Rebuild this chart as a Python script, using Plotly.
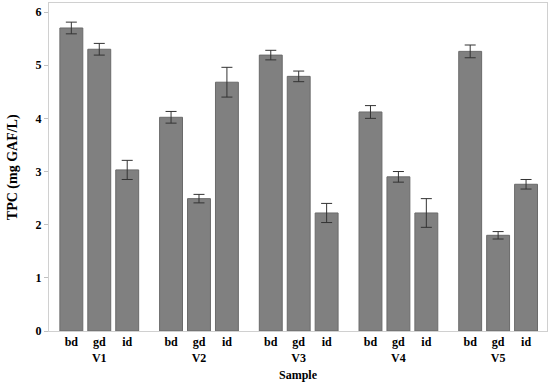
import plotly.graph_objects as go

groups = ["V1", "V2", "V3", "V4", "V5"]
subs = ["bd", "gd", "id"]
values = [5.70, 5.30, 3.03,
          4.02, 2.49, 4.68,
          5.19, 4.79, 2.22,
          4.12, 2.90, 2.22,
          5.26, 1.80, 2.76]
errors = [0.11, 0.11, 0.18,
          0.11, 0.08, 0.28,
          0.09, 0.10, 0.18,
          0.12, 0.10, 0.27,
          0.12, 0.07, 0.09]

gap = 0.57
xs, labels = [], []
for g, grp in enumerate(groups):
    for k, s in enumerate(subs):
        xs.append(g * (3 + gap) + k)
        labels.append(f"<b>{s}</b><br><b>{grp}</b>" if k == 1 else f"<b>{s}</b>")

font = "Liberation Serif"
fig = go.Figure(go.Bar(
    x=xs, y=values, width=0.82,
    marker=dict(color="#808080", line=dict(color="#6a6a6a", width=1)),
    error_y=dict(type="data", array=errors, color="#333333", thickness=1, width=5.5),
))
fig.update_layout(
    width=550, height=386,
    margin=dict(l=49, r=3, t=3, b=55),
    plot_bgcolor="white", paper_bgcolor="white",
    showlegend=False,
    font=dict(family=font, color="#000000"),
    annotations=[
        dict(text="<b>Sample</b>", xref="paper", yref="paper", x=0.5, y=-0.108,
             xanchor="center", yanchor="top", showarrow=False,
             font=dict(family=font, size=12)),
        dict(text="<b>TPC (mg GAF/L)</b>", xref="paper", yref="paper", x=-0.072, y=0.5,
             xanchor="center", yanchor="middle", showarrow=False, textangle=-90,
             font=dict(family=font, size=14)),
    ],
)
fig.update_xaxes(
    range=[-0.8, xs[-1] + 0.75],
    tickvals=xs, ticktext=labels,
    tickfont=dict(family=font, size=12),
    showline=True, linecolor="#d0d0d0", linewidth=1, mirror=True,
    showgrid=False, zeroline=False, ticks="", ticklabelstandoff=0,
    automargin=False,
)
fig.update_yaxes(
    range=[0, 6.17],
    tickvals=[0, 1, 2, 3, 4, 5, 6],
    ticktext=[f"<b>{v}</b>" for v in range(7)],
    tickfont=dict(family=font, size=12),
    showline=True, linecolor="#d0d0d0", linewidth=1, mirror=True,
    showgrid=False, zeroline=False,
    ticks="outside", ticklen=4, tickcolor="#c0c0c0",
    automargin=False,
)
fig.write_html("out.html", config={"displayModeBar": False},
               post_script="document.body.style.margin='0';")
